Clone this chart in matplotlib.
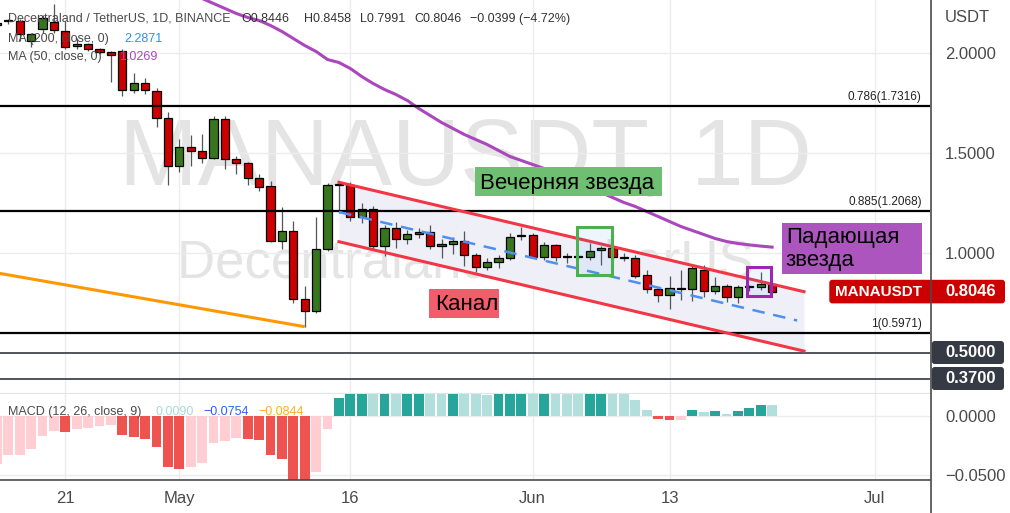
import numpy as np
import matplotlib.pyplot as plt
from matplotlib.patches import Rectangle, FancyBboxPatch
from matplotlib.lines import Line2D
from matplotlib.transforms import IdentityTransform, blended_transform_factory

plt.rcParams['font.family'] = ['Liberation Sans', 'DejaVu Sans']

# day index: 0 = 1 May 2022
days = np.arange(-16, 53)
opens = [2.137, 2.157, 2.159, 2.0575, 2.116, 2.151, 2.1075, 2.0325, 2.041, 2.016,
         2.004, 2.009, 1.8125, 1.846, 1.809, 1.671, 1.434, 1.526, 1.5075, 1.474,
         1.666, 1.466, 1.446, 1.371, 1.331, 1.059, 1.109, 0.766, 0.706, 1.019,
         1.336, 1.3375, 1.176, 1.216, 1.0325, 1.121, 1.066, 1.091, 1.101, 1.0325,
         1.0425, 1.0575, 0.9875, 0.926, 0.951, 0.971, 1.081, 1.086, 0.979, 1.0375,
         0.978, 0.979, 0.976, 1.011, 1.021, 0.975, 0.971, 0.886, 0.816, 0.7875,
         0.820, 0.816, 0.9125, 0.8075, 0.834, 0.776, 0.8255, 0.8265, 0.8446]
highs = [2.160, 2.170, 2.170, 2.100, 2.190, 2.241, 2.160, 2.075, 2.050, 2.025,
         2.010, 2.020, 1.899, 1.871, 1.821, 1.704, 1.5675, 1.5875, 1.5925, 1.6825,
         1.6825, 1.4825, 1.454, 1.3925, 1.3575, 1.229, 1.1575, 0.8325, 1.179, 1.349,
         1.354, 1.354, 1.246, 1.234, 1.1375, 1.154, 1.1125, 1.121, 1.1375, 1.066,
         1.076, 1.1075, 1.000, 0.971, 0.9875, 1.096, 1.129, 1.096, 1.054, 1.045,
         0.999, 0.990, 1.046, 1.0325, 1.026, 0.999, 0.990, 0.9125, 0.829, 0.8825,
         0.9125, 0.9325, 0.9375, 0.879, 0.845, 0.8375, 0.840, 0.904, 0.8458]
lows = [2.120, 2.145, 2.060, 2.030, 2.100, 2.100, 2.020, 2.020, 2.009, 1.995,
        1.854, 1.784, 1.796, 1.795, 1.626, 1.3375, 1.404, 1.434, 1.449, 1.4675,
        1.4175, 1.3925, 1.3375, 1.309, 1.054, 1.0175, 0.746, 0.629, 0.699, 1.009,
        1.196, 1.159, 1.146, 1.0175, 0.9825, 1.024, 1.041, 1.074, 1.0175, 0.971,
        0.991, 0.934, 0.901, 0.9125, 0.924, 0.9625, 1.0625, 0.971, 0.9625, 0.959,
        0.946, 0.970, 0.9625, 0.9375, 0.965, 0.959, 0.874, 0.796, 0.754, 0.7175,
        0.7625, 0.759, 0.776, 0.791, 0.751, 0.749, 0.810, 0.8125, 0.7991]
closes = [2.148, 2.159, 2.091, 2.091, 2.171, 2.1125, 2.029, 2.041, 2.016, 2.004,
          1.9875, 1.8125, 1.846, 1.8125, 1.671, 1.434, 1.526, 1.506, 1.474, 1.666,
          1.466, 1.446, 1.371, 1.329, 1.059, 1.109, 0.766, 0.706, 1.019, 1.336,
          1.338, 1.176, 1.216, 1.0325, 1.121, 1.066, 1.091, 1.101, 1.0325, 1.0425,
          1.0575, 0.9875, 0.926, 0.951, 0.971, 1.079, 1.0825, 0.979, 1.0375, 0.976,
          0.979, 0.980, 1.009, 1.021, 0.976, 0.974, 0.884, 0.816, 0.7875, 0.824,
          0.819, 0.921, 0.8075, 0.834, 0.776, 0.826, 0.8265, 0.8445, 0.8046]

macd_hist = [-0.0404, -0.0333, -0.0328, -0.0277, -0.0172, -0.0124, -0.0133, -0.0113,
             -0.0099, -0.0082, -0.0076, -0.0158, -0.0175, -0.0192, -0.0260, -0.0430,
             -0.0447, -0.0430, -0.0396, -0.0226, -0.0209, -0.0190, -0.0193, -0.0201,
             -0.0333, -0.0362, -0.0600, -0.0680, -0.0475, -0.0108, 0.0153, 0.0240,
             0.0300, 0.0280, 0.0310, 0.0290, 0.0310, 0.0330, 0.0300, 0.0270,
             0.0290, 0.0260, 0.0220, 0.0178, 0.0210, 0.0240, 0.0270, 0.0250,
             0.0260, 0.0250, 0.0230, 0.0210, 0.0220, 0.0230, 0.0210, 0.0200,
             0.0136, 0.0051, -0.0023, -0.0033, -0.0030, 0.0051, 0.0034, 0.0042,
             0.0017, 0.0042, 0.0068, 0.0095, 0.0090]

ma50_days = np.arange(0, 53)
ma50 = [2.34, 2.31, 2.27, 2.245, 2.22, 2.195, 2.175, 2.16, 2.135, 2.105,
        2.07, 2.035, 2.005, 1.965, 1.95, 1.92, 1.88, 1.845, 1.815, 1.79,
        1.76, 1.72, 1.685, 1.65, 1.62, 1.59, 1.565, 1.54, 1.51, 1.48,
        1.46, 1.44, 1.42, 1.395, 1.375, 1.35, 1.325, 1.30, 1.275, 1.25,
        1.23, 1.205, 1.18, 1.155, 1.13, 1.11, 1.09, 1.07, 1.055, 1.045,
        1.038, 1.032, 1.0269]

tick_days = [-10, 0, 15, 31, 43, 61]
tick_labels = ['21', 'May', '16', 'Jun', '13', 'Jul']

fib_levels = [1.7316, 1.2068, 0.5971]
fib_labels = ['0.786(1.7316)', '0.885(1.2068)', '1(0.5971)']
level_lines = [0.5, 0.37]

channel_days = [14, 54.8]
channel_upper = [1.351, 0.804]
channel_lower = [1.054, 0.507]
channel_mid_days = [14, 54.2]
channel_mid = [1.2025, 0.66]
trend_days = [-16, 11]
trend_prices = [0.898, 0.629]

W, H = 1010, 513


def fx(x):
    return x / W


def fy(y):
    return 1 - y / H


fig = plt.figure(figsize=(W / 100, H / 100), dpi=100)
ax = fig.add_axes([0, fy(393), fx(930), 393 / H])
ax2 = fig.add_axes([0, fy(480), fx(930), 86 / H], sharex=ax)

ax.set_xlim(-15.73, 65.85)
ax.set_ylim(0.2975, 2.2625)
ax2.set_ylim(-0.054237, 0.018644)

grid_c = '#ececef'
txt_c = '#4a4a4a'
for a in (ax, ax2):
    a.set_xticks(tick_days)
    a.grid(True, color=grid_c, lw=1, zorder=0)
    a.set_axisbelow(True)
    a.yaxis.tick_right()
    a.tick_params(length=0, labelsize=12, labelcolor=txt_c, pad=10.8)
    for s in ('top', 'left', 'right'):
        a.spines[s].set_visible(False)
ax.spines['bottom'].set_color('#e0e3eb')
ax2.spines['bottom'].set_color('#4a4a4a')
ax2.spines['bottom'].set_linewidth(1.2)
ax.tick_params(labelbottom=False)
ax2.set_xticklabels(tick_labels)
ax2.tick_params(axis='x', pad=8)
ax.set_yticks([1.0, 1.5, 2.0])
ax.set_yticklabels(['1.0000', '1.5000', '2.0000'])
ax2.set_yticks([-0.05, 0.0])
ax2.set_yticklabels(['\u22120.0500', '0.0000'])

# watermark
wm = '#e4e4e4'
ax.text(0.5, 1 - 185 / 393, 'MANAUSDT, 1D', transform=ax.transAxes, ha='center',
        va='baseline', fontsize=68, color=wm, zorder=0)
ax.text(0.5, 1 - 277 / 393, 'Decentraland / TetherUS', transform=ax.transAxes,
        ha='center', va='baseline', fontsize=38, color=wm, zorder=0)

# channel fill
ax.fill_between(channel_days, channel_lower, channel_upper, color='#efeff8', lw=0, zorder=1)

# candles
o = np.array(opens)
c = np.array(closes)
up = c >= o
body_colors = np.where(up, '#38761d', '#cc0000')
ax.vlines(days, lows, highs, color='#555555', lw=0.9, zorder=3)
ax.bar(days, np.maximum(np.abs(c - o), 0.005), bottom=np.minimum(o, c), width=0.72,
       color=body_colors, edgecolor='black', lw=0.9, zorder=4)

# MA 50
ax.plot(ma50_days, ma50, color='#ab47bc', lw=2.2, zorder=5)

# drawings
xblend = blended_transform_factory(ax.transAxes, ax.transData)
for lvl, lab in zip(fib_levels, fib_labels):
    ax.axhline(lvl, color='black', lw=1.6, zorder=6)
    ax.annotate(lab, xy=(0.991, lvl), xycoords=xblend, xytext=(0, 2.5),
                textcoords='offset points', ha='right', va='bottom', fontsize=8.5,
                color='#222222', zorder=7)
for lvl in level_lines:
    ax.axhline(lvl, color='#434651', lw=1.3, zorder=6)

ax.plot(trend_days, trend_prices, color='#ff9800', lw=2.2, zorder=5, solid_capstyle='butt')
ax.plot(channel_days, channel_upper, color='#f23645', lw=2.2, zorder=6)
ax.plot(channel_days, channel_lower, color='#f23645', lw=2.2, zorder=6)
ax.plot(channel_mid_days, channel_mid, color='#4f8ff0', lw=1.8, dashes=(5, 3.5), zorder=6)

ax.add_patch(Rectangle((34.86, 0.8875), 3.07, 0.2415, fc=(0.13, 0.59, 0.95, 0.08),
                       ec='#4caf50', lw=2.2, zorder=7))
ax.add_patch(Rectangle((49.8, 0.784), 2.1, 0.145, fc=(0.13, 0.59, 0.95, 0.08),
                       ec='#9c27b0', lw=2.2, zorder=7))

# labels
ax.add_patch(Rectangle((25.9, 1.284), 16.4, 0.142, fc='#6ebf72', lw=0, zorder=8))
ax.text(26.35, 1.3175, 'Вечерняя звезда', fontsize=16, va='baseline', color='black', zorder=9)
ax.add_patch(Rectangle((21.93, 0.674), 6.11, 0.1435, fc='#f25d6b', lw=0, zorder=8))
ax.text(22.4, 0.7125, 'Канал', fontsize=16, va='baseline', color='black', zorder=9)
ax.add_patch(Rectangle((52.84, 0.8925), 12.28, 0.2562, fc='#ad55bf', lw=0, zorder=8))
ax.text(53.2, 1.126, 'Падающая\nзвезда', fontsize=16, va='top', color='black',
        linespacing=1.08, zorder=9)

# MACD histogram
h = np.array(macd_hist)
diff = np.diff(h, prepend=h[0])
dark = ((h >= 0) & (diff > 0)) | ((h < 0) & (diff < 0))
cols = np.where(h >= 0, np.where(dark, '#26a69a', '#b2dfdb'),
                np.where(dark, '#ef5350', '#ffcdd2'))
ax2.bar(days, h, width=0.86, color=cols, lw=0, zorder=2)

# right scale line
fig.add_artist(Line2D([fx(930.5)] * 2, [0, 1], transform=fig.transFigure,
                      color='#4a4a4a', lw=1.2))

# price labels on scale
fig.canvas.draw()


def ypx(v):
    return ax.transData.transform((0, v))[1]


idt = IdentityTransform()
yc = ypx(0.8046)
fig.add_artist(FancyBboxPatch((829.3, yc - 11.8), 175.7, 23.6,
                              boxstyle='round,pad=0,rounding_size=3', transform=idt,
                              fc='#cc0000', ec='none'))
fig.text(fx(878.3), yc / H, 'MANAUSDT', ha='center', va='center', color='white',
         fontsize=11, fontweight='bold')
fig.text(fx(945), yc / H, '0.8046', ha='left', va='center', color='white',
         fontsize=12, fontweight='bold')
for lvl, lab in zip(level_lines, ['0.5000', '0.3700']):
    yc = ypx(lvl)
    fig.add_artist(FancyBboxPatch((931.7, yc - 11.5), 72.3, 23,
                                  boxstyle='round,pad=0,rounding_size=3', transform=idt,
                                  fc='#363a45', ec='none'))
    fig.text(fx(945), yc / H, lab, ha='left', va='center', color='white',
             fontsize=12, fontweight='bold')

fig.text(fx(945), fy(17.5), 'USDT', ha='left', va='center', color=txt_c, fontsize=12)

# legends
lg = '#4a4a4a'
fig.text(fx(8), fy(21.7), 'Decentraland / TetherUS, 1D, BINANCE', fontsize=9, color=lg,
         va='baseline')
for xp, s in zip([241, 304, 360, 414, 470.5],
                 ['O0.8446', 'H0.8458', 'L0.7991', 'C0.8046', '\u22120.0399 (\u22124.72%)']):
    fig.text(fx(xp), fy(21.7), s, fontsize=9, color='#333333', va='baseline')
fig.text(fx(8), fy(41.7), 'MA (200, close, 0)', fontsize=9, color=lg, va='baseline')
fig.text(fx(124), fy(41.7), '2.2871', fontsize=9, color='#2196f3', va='baseline')
fig.text(fx(8), fy(60), 'MA (50, close, 0)', fontsize=9, color=lg, va='baseline')
fig.text(fx(119), fy(60), '1.0269', fontsize=9, color='#ab47bc', va='baseline')
fig.text(fx(8), fy(415.3), 'MACD (12, 26, close, 9)', fontsize=9, color=lg, va='baseline')
fig.text(fx(156), fy(415.3), '0.0090', fontsize=9, color='#a8dbd5', va='baseline')
fig.text(fx(203), fy(415.3), '\u22120.0754', fontsize=9, color='#2962ff', va='baseline')
fig.text(fx(258), fy(415.3), '\u22120.0844', fontsize=9, color='#ffad1f', va='baseline')

fig.savefig('out.png', dpi=100)
